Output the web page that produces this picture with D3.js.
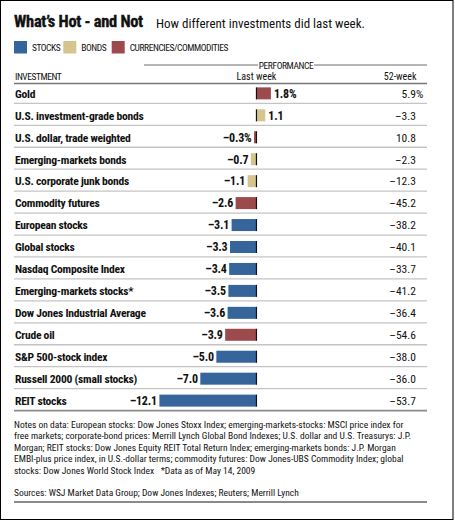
<!DOCTYPE html>
<html>
<head>
<meta charset="utf-8" />
<script src="https://d3js.org/d3.v7.min.js"></script>
<style>
  body { margin: 0; background: #fff; }
  svg text { font-family: "Roboto Condensed", "Roboto", sans-serif; fill: #111; white-space: pre; }
</style>
</head>
<body>
<div id="visu"></div>
<script>
// Dimensions
const largeur = 455;
const hauteur = 521;

// Données
const investissements = ["Gold", "U.S. investment-grade bonds", "U.S. dollar, trade weighted",
  "Emerging-markets bonds", "U.S. corporate junk bonds", "Commodity futures", "European stocks",
  "Global stocks", "Nasdaq Composite Index", "Emerging-markets stocks*", "Dow Jones Industrial Average",
  "Crude oil", "S&P 500-stock index", "Russell 2000 (small stocks)", "REIT stocks"];
const derniereSemaine = [1.8, 1.1, -0.3, -0.7, -1.1, -2.6, -3.1, -3.3, -3.4, -3.5, -3.6, -3.9, -5.0, -7.0, -12.1];
const semaines52 = [5.9, -3.3, 10.8, -2.3, -12.3, -45.2, -38.2, -40.1, -33.7, -41.2, -36.4, -54.6, -38.0, -36.0, -53.7];
const categories = ["cur", "bond", "cur", "bond", "bond", "cur", "stock", "stock", "stock", "stock", "stock", "cur", "stock", "stock", "stock"];
const legende = [["stock", "STOCKS"], ["bond", "BONDS"], ["cur", "CURRENCIES/COMMODITIES"]];
const couleurs = {stock: "#35659a", bond: "#d6c48f", cur: "#9d4a4c"};
const notes = [
  "Notes on data: European stocks: Dow Jones Stoxx Index; emerging-markets-stocks: MSCI price index for",
  "free markets; corporate-bond prices: Merrill Lynch Global Bond Indexes; U.S. dollar and U.S. Treasurys: J.P.",
  "Morgan; REIT stocks: Dow Jones Equity REIT Total Return Index; emerging-markets bonds: J.P. Morgan",
  "EMBI-plus price index, in U.S.-dollar terms; commodity futures: Dow Jones-UBS Commodity Index; global",
  "stocks: Dow Jones World Stock Index   *Data as of May 14, 2009"
];
const sources = "Sources: WSJ Market Data Group; Dow Jones Indexes; Reuters; Merrill Lynch";

const locale = d3.formatLocale({decimal: ".", thousands: ",", grouping: [3], currency: ["$", ""], minus: "\u2013"});
const fmt = locale.format(".1f");

const svg = d3.select('#visu').append('svg')
  .attr('width', largeur).attr('height', hauteur);

// Cadre
svg.append('rect').attr('x', 0.5).attr('y', 0.5).attr('width', 452.5).attr('height', 519)
  .attr('fill', 'none').attr('stroke', '#000');

// Titre
svg.append('text').attr('x', 14).attr('y', 27).attr('font-size', 16.5).attr('font-weight', 'bold')
  .attr('stroke', '#111').attr('stroke-width', 0.35)
  .style('letter-spacing', '-0.3px').text("What\u2019s Hot - and Not");
svg.append('text').attr('x', 156).attr('y', 27.5).attr('font-size', 13)
  .text("How different investments did last week.");

// Légende
const posLeg = [14, 63.3, 111.7];
legende.forEach(([c, t], i) => {
  svg.append('rect').attr('x', posLeg[i]).attr('y', 41).attr('width', 13).attr('height', 12.5).attr('fill', couleurs[c]);
  svg.append('text').attr('x', posLeg[i] + 18).attr('y', 51).attr('font-size', 9.5)
    .style('letter-spacing', '-0.45px').text(t);
});

// Echelles
const x = d3.scaleLinear().domain([-12.1, 1.8]).range([159.4, 270.9]);
const y = d3.scaleBand().domain(investissements).range([81.4, 410.6]);

// En-tête
svg.append('line').attr('x1', 144).attr('x2', 427).attr('y1', 65).attr('y2', 65).attr('stroke', '#444').attr('stroke-width', 0.8);
svg.append('rect').attr('x', 258).attr('y', 59).attr('width', 56).attr('height', 11).attr('fill', '#fff');
svg.append('text').attr('x', 286).attr('y', 68.5).attr('text-anchor', 'middle').attr('font-size', 9.5)
  .style('letter-spacing', '-0.4px').text("PERFORMANCE");
svg.append('text').attr('x', 15).attr('y', 79.5).attr('font-size', 9.5).style('letter-spacing', '-0.45px').text("INVESTMENT");
svg.append('text').attr('x', x(0)).attr('y', 79.5).attr('text-anchor', 'middle').attr('font-size', 10).text("Last week");
svg.append('text').attr('x', 416.5).attr('y', 79.5).attr('text-anchor', 'end').attr('font-size', 10).text("52-week");
svg.append('line').attr('x1', 14).attr('x2', 427).attr('y1', 83.5).attr('y2', 83.5).attr('stroke', '#777').attr('stroke-width', 1.6);

// Lignes
const rangs = svg.selectAll('.rang').data(investissements).enter().append('g')
  .attr('class', 'rang').attr('transform', d => `translate(0, ${y(d)})`);
const h = y.bandwidth();
const cy = h / 2 + 1;

rangs.each(function(d, i) {
  const g = d3.select(this);
  const v = derniereSemaine[i];
  const dernier = i === investissements.length - 1;
  g.append('line').attr('x1', 14).attr('x2', 427).attr('y1', h).attr('y2', h)
    .attr('stroke', dernier ? '#8a8a8a' : '#c4c4c4').attr('stroke-width', dernier ? 1.8 : 1.3);
  g.append('text').attr('x', 15).attr('y', cy + 4.3).attr('font-size', 11.6).attr('font-weight', 'bold')
    .style('letter-spacing', '-0.25px').text(d);
  g.append('rect')
    .attr('x', Math.min(x(0), x(v))).attr('y', cy - 6)
    .attr('width', Math.abs(x(v) - x(0))).attr('height', 12)
    .attr('fill', couleurs[categories[i]]);
  g.append('line').attr('x1', x(0)).attr('x2', x(0)).attr('y1', cy - 6).attr('y2', cy + 6)
    .attr('stroke', '#111').attr('stroke-width', 1.2);
  const pct = (i === 0 || i === 2) ? "%" : "";
  g.append('text')
    .attr('x', v >= 0 ? x(v) + 3 : x(v) - 2.5)
    .attr('y', cy + 4.3)
    .attr('text-anchor', v >= 0 ? 'start' : 'end')
    .attr('font-size', 12).attr('font-weight', 'bold')
    .style('letter-spacing', '-0.2px')
    .text(fmt(v) + pct);
  g.append('text').attr('x', 416).attr('y', cy + 4.3).attr('text-anchor', 'end').attr('font-size', 11.5)
    .text(fmt(semaines52[i]));
  if (i === 0) {
    g.append('text').attr('x', 416).attr('y', cy + 4.3).attr('font-size', 11.5).text("%");
  }
});

// Notes
notes.forEach((t, i) => {
  svg.append('text').attr('x', 14).attr('y', 427.5 + i * 11.5).attr('font-size', 9.5).text(t);
});
svg.append('text').attr('x', 14).attr('y', 496).attr('font-size', 9.5).text(sources);
svg.append('line').attr('x1', 14).attr('x2', 427).attr('y1', 502).attr('y2', 502).attr('stroke', '#8a8a8a').attr('stroke-width', 1.8);
</script>
</body>
</html>
